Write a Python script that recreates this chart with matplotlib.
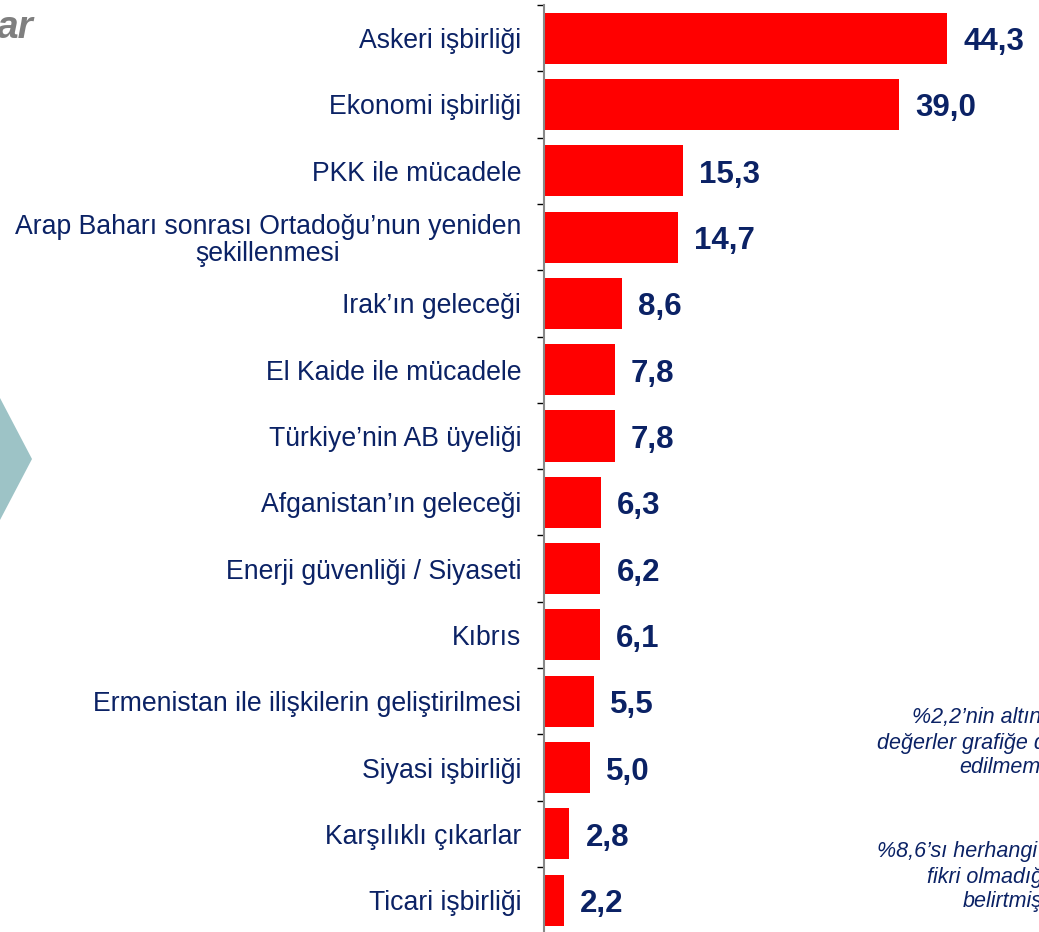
import matplotlib.pyplot as plt
import matplotlib.patches as patches
import numpy as np

plt.rcParams['font.family'] = ['Liberation Sans', 'DejaVu Sans']

categories = [
    'Askeri işbirliği',
    'Ekonomi işbirliği',
    'PKK ile mücadele',
    'Arap Baharı sonrası Ortadoğu’nun yeniden\nşekillenmesi',
    'Irak’ın geleceği',
    'El Kaide ile mücadele',
    'Türkiye’nin AB üyeliği',
    'Afganistan’ın geleceği',
    'Enerji güvenliği / Siyaseti',
    'Kıbrıs',
    'Ermenistan ile ilişkilerin geliştirilmesi',
    'Siyasi işbirliği',
    'Karşılıklı çıkarlar',
    'Ticari işbirliği',
]
values = [44.3, 39.0, 15.3, 14.7, 8.6, 7.8, 7.8, 6.3, 6.2, 6.1, 5.5, 5.0, 2.8, 2.2]

navy = '#0b2265'

W, H = 1039, 932
fig = plt.figure(figsize=(W / 100, H / 100), dpi=100)
ax = fig.add_axes([544 / W, 1 - 933.3 / H, (W - 544) / W, 928.3 / H])

y = np.arange(len(categories))
ax.barh(y, values, height=0.77, color='#ff0000', edgecolor='none')

for yi, v in zip(y, values):
    ax.annotate(f'{v:.1f}'.replace('.', ','), (v, yi), xytext=(16, -4),
                textcoords='offset pixels', ha='left', va='center',
                fontsize=22.5, fontweight='bold', color=navy)

ax.set_xlim(0, (W - 544) / 9.10)
ax.set_ylim(len(categories) - 0.5, -0.5)

ax.set_yticks(y)
ax.set_yticklabels(categories, fontsize=19.2, color=navy)
ax.tick_params(axis='y', which='major', length=0, pad=16.5)
for lab in ax.get_yticklabels():
    lab.set_multialignment('center')
    lab.set_linespacing(1.05)
ax.set_yticks(np.arange(-0.5, len(categories), 1.0), minor=True)
ax.tick_params(axis='y', which='minor', length=5, width=1, color='black')
ax.set_xticks([])

for side in ['top', 'right', 'bottom']:
    ax.spines[side].set_visible(False)
ax.spines['left'].set_color('#888888')
ax.spines['left'].set_linewidth(1.5)

# pieces of the slide around the chart (cut off at the edges, as in the source)
chevron = patches.Polygon([(-20 / W, 1 - 398 / H), (0, 1 - 398 / H), (32 / W, 1 - 459 / H),
                           (0, 1 - 520 / H), (-20 / W, 1 - 520 / H)],
                          closed=True, transform=fig.transFigure, facecolor='#9dc3c6',
                          edgecolor='none')
fig.patches.append(chevron)

fig.text(34 / W, 1 - 38 / H, 'ar', ha='right', va='baseline', fontsize=28,
         fontweight='bold', fontstyle='italic', color='#7f7f7f')

note1 = [(912, 717, '%2,2’nin altında kalan'),
         (877, 743, 'değerler grafiğe dahil'),
         (959, 768, 'edilmemiştir')]
note2 = [(877, 852, '%8,6’sı herhangi bir'),
         (927, 878, 'fikri olmadığını'),
         (963, 902, 'belirtmiştir')]
for x, yy, t in note1 + note2:
    fig.text(x / W, 1 - yy / H, t, ha='left', va='center', fontsize=15.5,
             fontstyle='italic', color=navy)

fig.savefig('out.png', dpi=100)
